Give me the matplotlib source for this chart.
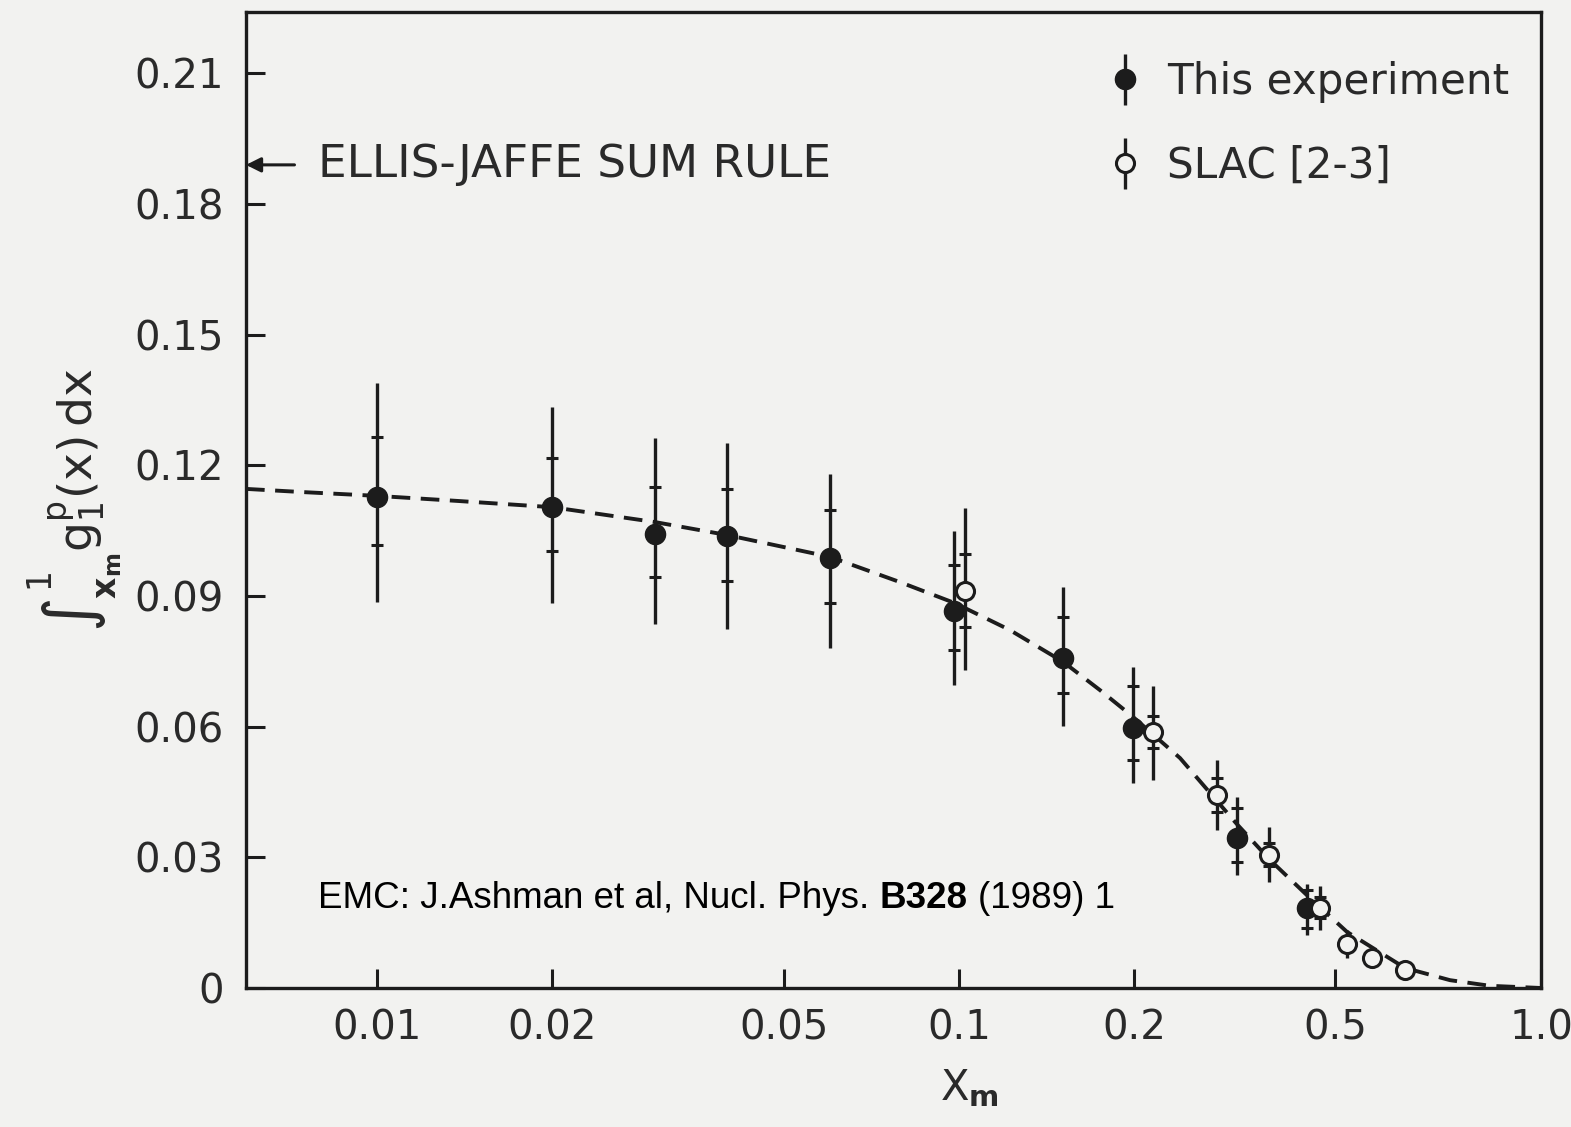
import matplotlib
matplotlib.use("Agg")
import matplotlib.pyplot as plt
from matplotlib import font_manager
from matplotlib.legend_handler import HandlerErrorbar
import numpy as np

# ---------------- data ----------------
# This experiment (EMC)
emc_x = [0.01, 0.02, 0.03, 0.04, 0.06, 0.098, 0.151, 0.199, 0.30, 0.396]
emc_y = [0.1127, 0.1104, 0.1042, 0.1038, 0.0987, 0.0865, 0.0758, 0.0597, 0.0344, 0.0184]
emc_tot_hi = [0.1389, 0.1334, 0.1263, 0.1251, 0.1180, 0.1049, 0.0921, 0.0737, 0.0439, 0.0239]
emc_tot_lo = [0.0886, 0.0884, 0.0836, 0.0824, 0.0781, 0.0696, 0.0602, 0.0471, 0.0259, 0.0122]
emc_stat_hi = [0.1265, 0.1217, 0.1151, 0.1146, 0.1098, 0.0971, 0.0852, 0.0693, 0.0413, 0.0225]
emc_stat_lo = [0.1017, 0.1003, 0.0944, 0.0935, 0.0884, 0.0776, 0.0677, 0.0524, 0.0289, 0.0138]

# SLAC [2-3]
slac_x = [0.1024, 0.2154, 0.2775, 0.3408, 0.4172, 0.4642, 0.5125, 0.5837]
slac_y = [0.0912, 0.0588, 0.0443, 0.0305, 0.0184, 0.0101, 0.0069, 0.0041]
slac_tot_hi = [0.1102, 0.0693, 0.0524, 0.0369, 0.0234, 0.0133, 0.0069, 0.0041]
slac_tot_lo = [0.0730, 0.0478, 0.0363, 0.0243, 0.0133, 0.0069, 0.0069, 0.0041]
slac_stat_hi = [0.0997, 0.0625, 0.0482, 0.0333, 0.0210, None, None, None]
slac_stat_lo = [0.0829, 0.0551, 0.0404, 0.0280, 0.0160, None, None, None]

# dashed curve
curve_x = [0.00596, 0.00738, 0.01, 0.01389, 0.02, 0.03, 0.04, 0.06, 0.0792, 0.0983,
           0.1223, 0.151, 0.1747, 0.1985, 0.2398, 0.30, 0.3423, 0.3956, 0.464,
           0.584, 0.6976, 0.8175, 1.0]
curve_y = [0.1146, 0.1139, 0.1130, 0.1118, 0.1104, 0.1070, 0.1040, 0.0990, 0.0932, 0.0884,
           0.0822, 0.0749, 0.0684, 0.0624, 0.0528, 0.0377, 0.0294, 0.0214, 0.0129,
           0.0046, 0.0018, 0.0005, 0.0]

ellis_jaffe = 0.189

xtick_pos = [0.01, 0.02, 0.05, 0.1, 0.2, 0.443, 1.0]
xtick_lab = ["0.01", "0.02", "0.05", "0.1", "0.2", "0.5", "1.0"]
ytick_pos = [0, 0.03, 0.06, 0.09, 0.12, 0.15, 0.18, 0.21]
ytick_lab = ["0", "0.03", "0.06", "0.09", "0.12", "0.15", "0.18", "0.21"]

# ---------------- style ----------------
plt.rcParams['font.family'] = ['DejaVu Sans']
plt.rcParams['mathtext.fontset'] = 'dejavusans'
ink = '#1c1c1c'
paper = '#f2f2f0'
txtc = '#2a2a2a'

avail = {f.name for f in font_manager.fontManager.ttflist}
narrow = 'Liberation Sans Narrow' if 'Liberation Sans Narrow' in avail else 'Liberation Sans'
narrow_size = 32.8 if narrow == 'Liberation Sans Narrow' else 26.5

fig = plt.figure(figsize=(15.71, 11.27), dpi=100, facecolor=paper)
ax = fig.add_axes([246/1571, (1127-988)/1127, 1295/1571, 976/1127], facecolor=paper)

ax.set_xscale('log')
ax.set_xlim(0.00596, 1.0)
ax.set_ylim(0, 0.2241)

# curve
ax.plot(curve_x, curve_y, ls=(0, (4.8, 2.7)), color=ink, lw=2.8, zorder=2)

# EMC data
ex = np.array(emc_x); ey = np.array(emc_y)
yerr = [ey - np.array(emc_tot_lo), np.array(emc_tot_hi) - ey]
eb1 = ax.errorbar(ex, ey, yerr=yerr, fmt='o', color=ink, ms=14.5, elinewidth=2.4,
                  capsize=0, zorder=4)
ax.plot(ex, emc_stat_hi, ls='none', marker='_', ms=9, mew=2.2, color=ink, zorder=4)
ax.plot(ex, emc_stat_lo, ls='none', marker='_', ms=9, mew=2.2, color=ink, zorder=4)

# SLAC data
sx = np.array(slac_x); sy = np.array(slac_y)
syerr = [sy - np.array(slac_tot_lo), np.array(slac_tot_hi) - sy]
eb2 = ax.errorbar(sx, sy, yerr=syerr, fmt='o', color=ink, mfc=paper, mec=ink, mew=2.2,
                  ms=13, elinewidth=2.4, capsize=0, zorder=5)
for xv, hi, lo in zip(slac_x, slac_stat_hi, slac_stat_lo):
    if hi is not None:
        ax.plot([xv, xv], [hi, lo], ls='none', marker='_', ms=9, mew=2.2, color=ink, zorder=4)

# axes styling
for s in ax.spines.values():
    s.set_linewidth(2.4)
    s.set_color(ink)
ax.set_xticks(xtick_pos)
ax.set_xticklabels(xtick_lab)
ax.xaxis.set_minor_locator(matplotlib.ticker.NullLocator())
ax.set_yticks(ytick_pos)
ax.set_yticklabels(ytick_lab)
ax.tick_params(axis='both', direction='in', length=14, width=2.2, color=ink,
               labelsize=29, labelcolor=txtc)
ax.tick_params(axis='x', pad=15)
ax.tick_params(axis='y', pad=16)

# Ellis-Jaffe arrow + text
ax.annotate('', xy=(0.00596, ellis_jaffe), xytext=(0.00722, ellis_jaffe),
            arrowprops=dict(arrowstyle='-|>', color=ink, lw=2.2, mutation_scale=22,
                            shrinkA=0, shrinkB=0), zorder=6)
ax.text(0.00792, ellis_jaffe, 'ELLIS-JAFFE SUM RULE', fontsize=32.6, color=txtc,
        ha='left', va='center')

# legend
leg = ax.legend([eb1, eb2], ['This experiment', 'SLAC [2-3]'], loc='upper left',
                bbox_to_anchor=((1104-246)/1295, (988-61)/976), frameon=False,
                fontsize=30.3, handlelength=1.0, handletextpad=0.5, borderpad=0,
                borderaxespad=0, labelspacing=1.0, labelcolor=txtc,
                handler_map={type(eb1): HandlerErrorbar(yerr_size=0.6)})

# axis labels
fig.text(940/1571, 1 - 1100/1127, r'X$_{\mathbf{m}}$', fontsize=30, color=txtc,
         ha='left', va='baseline')
fig.text(75/1571, 1 - 500/1127,
         r'$\int_{\mathbf{x_m}}^{1} \mathrm{g}_1^{\mathrm{p}}(\mathrm{x})\,\mathrm{dx}$',
         fontsize=34, color=txtc, rotation=90, ha='center', va='center')

# reference line of text with bold part
fig.canvas.draw()
r = fig.canvas.get_renderer()
x0_disp = ax.transData.transform((0.00792, 0.0))[0]
y_base = ax.transData.transform((0.01, 0.0214))[1] - 13
parts = [("EMC: J.Ashman et al, Nucl. Phys.", 'normal'), ("B328", 'bold'), ("(1989) 1", 'normal')]
sp = fig.text(0, 0, "a a", family=narrow, fontsize=narrow_size)
sp2 = fig.text(0, 0, "aa", family=narrow, fontsize=narrow_size)
space_w = sp.get_window_extent(r).width - sp2.get_window_extent(r).width
sp.remove(); sp2.remove()
xcur = x0_disp
for txt, w in parts:
    t = fig.text(xcur / fig.bbox.width, y_base / fig.bbox.height, txt, family=narrow,
                 fontsize=narrow_size, fontweight=w, color='black', ha='left', va='baseline')
    xcur += t.get_window_extent(r).width + space_w

fig.savefig('out.png', dpi=100, facecolor=paper)
